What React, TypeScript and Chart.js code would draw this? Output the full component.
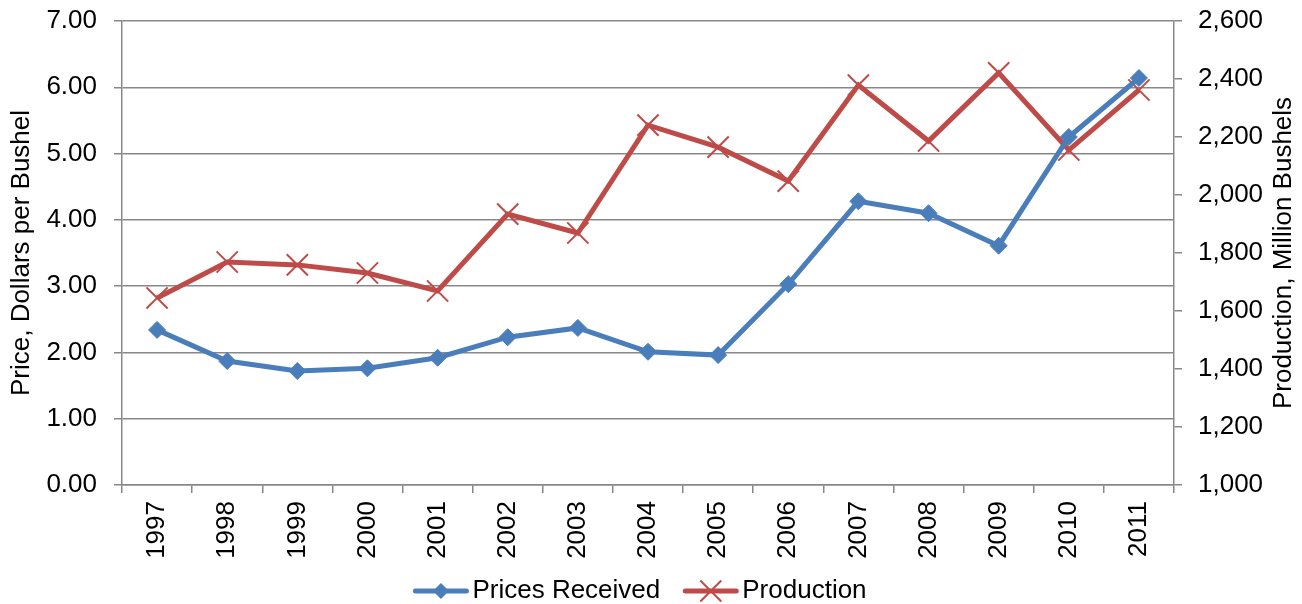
import React, { useEffect, useRef } from "react";
import { Chart, registerables } from "chart.js";

Chart.register(...registerables);

const years = ["1997","1998","1999","2000","2001","2002","2003","2004","2005","2006","2007","2008","2009","2010","2011"];
const pricesReceived = [2.34, 1.87, 1.72, 1.76, 1.92, 2.23, 2.37, 2.01, 1.96, 3.03, 4.28, 4.10, 3.61, 5.25, 6.14];
const production = [1645, 1769, 1759, 1731, 1669, 1934, 1869, 2241, 2165, 2048, 2379, 2186, 2421, 2155, 2362];
const leftTitle = "Price, Dollars per Bushel";
const rightTitle = "Production, Million Bushels";

const BLUE = "#4A7EBB";
const RED = "#BE4B48";
const GRID = "#888888";
const FONT = "'Liberation Sans', Arial, sans-serif";
const FS = 26;

const customPlugin = {
  id: "customDecor",
  afterDraw(chart: any) {
    const ctx = chart.ctx;
    const area = chart.chartArea;
    // Right axis title, reading bottom-to-top
    ctx.save();
    ctx.font = `${FS}px ${FONT}`;
    ctx.fillStyle = "#000";
    ctx.textAlign = "center";
    ctx.textBaseline = "middle";
    ctx.translate(1284, (area.top + area.bottom) / 2);
    ctx.rotate(-Math.PI / 2);
    ctx.fillText(rightTitle, 0, 0);
    ctx.restore();

    // Legend: line + marker + text
    const ds = chart.data.datasets;
    ctx.save();
    ctx.font = `${FS}px ${FONT}`;
    const sample = 55;
    const gapText = 4;
    const gapItem = 23;
    const widths = ds.map((d: any) => ctx.measureText(d.label).width);
    let total = 0;
    widths.forEach((w: number, i: number) => {
      total += sample + gapText + w + (i < widths.length - 1 ? gapItem : 0);
    });
    let x = 640 - total / 2;
    const y = 591;
    ds.forEach((d: any, i: number) => {
      ctx.strokeStyle = d.borderColor;
      ctx.lineWidth = 5;
      ctx.lineCap = "round";
      ctx.beginPath();
      ctx.moveTo(x + 2, y);
      ctx.lineTo(x + sample - 2, y);
      ctx.stroke();
      const cx = x + sample / 2;
      if (d.pointStyle === "rectRot") {
        const r = 8;
        ctx.fillStyle = d.pointBackgroundColor;
        ctx.beginPath();
        ctx.moveTo(cx - r, y);
        ctx.lineTo(cx, y - r);
        ctx.lineTo(cx + r, y);
        ctx.lineTo(cx, y + r);
        ctx.closePath();
        ctx.fill();
      } else {
        const r = 10.5;
        ctx.lineWidth = 2;
        ctx.lineCap = "butt";
        ctx.beginPath();
        ctx.moveTo(cx - r, y - r);
        ctx.lineTo(cx + r, y + r);
        ctx.moveTo(cx + r, y - r);
        ctx.lineTo(cx - r, y + r);
        ctx.stroke();
      }
      ctx.fillStyle = "#000";
      ctx.textAlign = "left";
      ctx.textBaseline = "middle";
      ctx.fillText(d.label, x + sample + gapText, y);
      x += sample + gapText + widths[i] + gapItem;
    });
    ctx.restore();
  },
};

export default function App() {
  const ref = useRef<HTMLCanvasElement>(null);
  useEffect(() => {
    document.body.style.margin = "0";
    const chart = new Chart(ref.current!, {
      type: "line",
      data: {
        labels: years,
        datasets: [
          {
            label: "Prices Received",
            data: pricesReceived,
            yAxisID: "y",
            borderColor: BLUE,
            backgroundColor: BLUE,
            pointBackgroundColor: BLUE,
            pointBorderColor: BLUE,
            borderWidth: 5,
            pointStyle: "rectRot",
            pointRadius: 8.5,
            pointBorderWidth: 1,
            tension: 0,
          },
          {
            label: "Production",
            data: production,
            yAxisID: "y1",
            borderColor: RED,
            backgroundColor: RED,
            pointBackgroundColor: RED,
            pointBorderColor: RED,
            borderWidth: 5,
            pointStyle: "crossRot",
            pointRadius: 15,
            pointBorderWidth: 2,
            tension: 0,
          },
        ],
      },
      options: {
        responsive: false,
        animation: false,
        layout: { padding: { top: 21, bottom: 31, left: 0, right: 0 } },
        plugins: {
          legend: { display: false },
          tooltip: { enabled: false },
        },
        scales: {
          x: {
            type: "category",
            offset: true,
            grid: {
              offset: true,
              drawOnChartArea: false,
              drawTicks: true,
              tickLength: 8,
              color: GRID,
              lineWidth: 1.5,
            },
            border: { color: GRID, width: 1.5 },
            ticks: {
              minRotation: 90,
              maxRotation: 90,
              autoSkip: false,
              padding: 8,
              color: "#000",
              font: { family: FONT, size: FS },
            },
            afterFit: (s: any) => {
              s.height = 88;
              s.paddingLeft = 0;
              s.paddingRight = 0;
            },
          },
          y: {
            position: "left",
            min: 0,
            max: 7,
            grid: {
              color: GRID,
              lineWidth: 1.5,
              tickLength: 8,
            },
            border: { color: GRID, width: 1.5 },
            ticks: {
              stepSize: 1,
              padding: 17,
              color: "#000",
              font: { family: FONT, size: FS },
              callback: (v: any) => Number(v).toFixed(2),
            },
            title: {
              display: true,
              text: leftTitle,
              color: "#000",
              font: { family: FONT, size: FS },
              padding: { top: 6, bottom: 0 },
            },
            afterFit: (s: any) => {
              s.width = 122;
              s.paddingTop = 0;
              s.paddingBottom = 0;
            },
          },
          y1: {
            position: "right",
            min: 1000,
            max: 2600,
            grid: {
              drawOnChartArea: false,
              color: GRID,
              lineWidth: 1.5,
              tickLength: 8,
            },
            border: { color: GRID, width: 1.5 },
            ticks: {
              stepSize: 200,
              padding: 16,
              color: "#000",
              font: { family: FONT, size: FS },
              callback: (v: any) => Number(v).toLocaleString("en-US"),
            },
            afterFit: (s: any) => {
              s.width = 128;
              s.paddingTop = 0;
              s.paddingBottom = 0;
            },
          },
        },
      },
      plugins: [customPlugin],
    } as any);
    return () => chart.destroy();
  }, []);
  return (
    <div style={{ position: "absolute", left: 0, top: 0, width: 1302, height: 604 }}>
      <canvas ref={ref} width={1302} height={604} />
    </div>
  );
}
